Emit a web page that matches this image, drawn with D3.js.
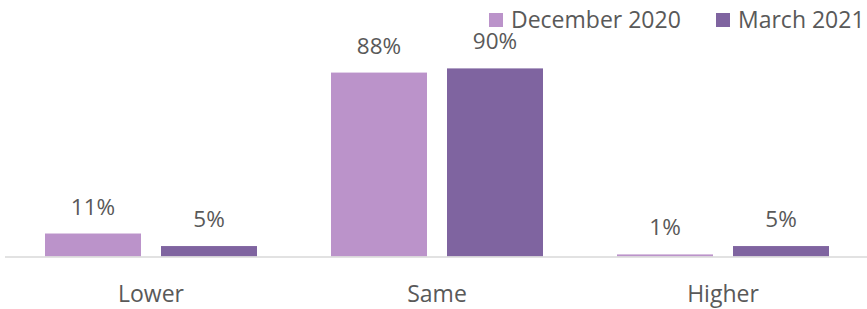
<!DOCTYPE html>
<html><head><meta charset="utf-8">
<script src="https://cdn.jsdelivr.net/npm/d3@7"></script>
<style>html,body{margin:0;padding:0;background:#fff;}svg{display:block;}</style>
</head><body>
<svg id="chart" width="867" height="309"></svg>
<script>
const categories = ["Lower", "Same", "Higher"];
const seriesNames = ["December 2020", "March 2021"];
const dec2020 = [11, 88, 1];
const mar2021 = [5, 90, 5];
const colors = ["#BB93CA", "#7F64A0"];

const svg = d3.select("#chart");
const font = "'Open Sans', sans-serif";
const textColor = "#595959";

const x0 = d3.scaleBand().domain(categories).range([8, 866]);
const x1 = d3.scaleBand().domain(seriesNames).range([37, 249]).paddingInner(20/116);
const y = d3.scaleLinear().domain([0, 100]).range([256.5, 47.5]);

const data = categories.map((c, i) => ({cat: c, vals: [dec2020[i], mar2021[i]]}));

const g = svg.append("g");
const groups = g.selectAll("g.grp").data(data).join("g")
  .attr("transform", d => `translate(${x0(d.cat)},0)`);

groups.selectAll("rect").data(d => d.vals.map((v, j) => ({v, s: seriesNames[j], j})))
  .join("rect")
  .attr("x", d => x1(d.s))
  .attr("width", x1.bandwidth())
  .attr("y", d => y(d.v))
  .attr("height", d => y(0) - y(d.v))
  .attr("fill", d => colors[d.j]);

groups.selectAll("text.lbl").data(d => d.vals.map((v, j) => ({v, s: seriesNames[j], j})))
  .join("text").attr("class", "lbl")
  .attr("x", d => x1(d.s) + x1.bandwidth() / 2)
  .attr("y", d => y(d.v) - 19)
  .attr("text-anchor", "middle")
  .attr("font-family", font).attr("font-size", 22.5)
  .attr("fill", textColor)
  .text(d => d.v + "%");

const xAxis = d3.axisBottom(x0).tickSize(0).tickPadding(0);
const ax = svg.append("g").attr("transform", `translate(0,${y(0)})`).call(xAxis);
ax.select(".domain").attr("d", "M5,0.5H867").attr("stroke", "#D9D9D9").attr("stroke-width", 1.5);
ax.selectAll(".tick text")
  .attr("dy", 0).attr("y", 45)
  .attr("font-family", font).attr("font-size", 23)
  .attr("fill", textColor);

const legend = svg.append("g");
const legX = [489, 716];
seriesNames.forEach((s, j) => {
  legend.append("rect").attr("x", legX[j]).attr("y", 13).attr("width", 14).attr("height", 14).attr("fill", colors[j]);
  legend.append("text").attr("x", legX[j] + 22).attr("y", 27.5)
    .attr("font-family", font).attr("font-size", 23).attr("fill", textColor).text(s);
});
</script>
</body></html>
